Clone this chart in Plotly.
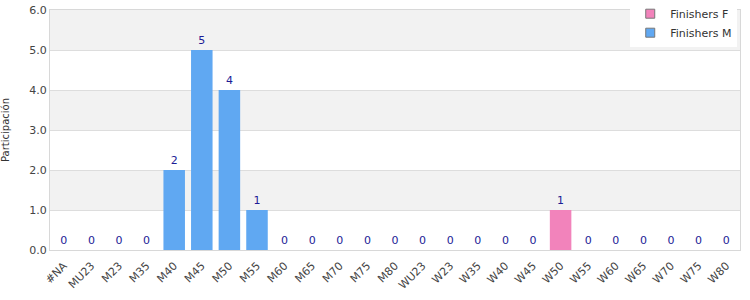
import plotly.graph_objects as go

categories = ["#NA", "MU23", "M23", "M35", "M40", "M45", "M50", "M55", "M60", "M65", "M70", "M75", "M80",
              "WU23", "W23", "W35", "W40", "W45", "W50", "W55", "W60", "W65", "W70", "W75", "W80"]
finishers_m = [0, 0, 0, 0, 2, 5, 4, 1, 0, 0, 0, 0, 0, None, None, None, None, None, None, None, None, None, None, None, None]
finishers_f = [None, None, None, None, None, None, None, None, None, None, None, None, None, 0, 0, 0, 0, 0, 1, 0, 0, 0, 0, 0, 0]
y_ticks = [0, 1, 2, 3, 4, 5, 6]

BLUE = "#60a8f2"
PINK = "#f283bb"
TXT = "#1c1c96"
FONT = "DejaVu Sans"

fig = go.Figure()
for name, vals, col in [("Finishers M", finishers_m, BLUE), ("Finishers F", finishers_f, PINK)]:
    fig.add_trace(go.Bar(
        x=categories, y=vals, name=name, marker=dict(color=col, line=dict(width=0)),
        width=0.78, text=[("" if v is None else str(v)) for v in vals],
        textposition="outside", cliponaxis=False,
        textfont=dict(color=TXT, size=11, family=FONT), showlegend=False))

for name, col in [("Finishers F", PINK), ("Finishers M", BLUE)]:
    fig.add_trace(go.Scatter(x=[None], y=[None], mode="markers", name=name,
                             marker=dict(symbol="square", size=9, color=col,
                                         line=dict(color="#777777", width=1))))

shapes = []
for lo in [1, 3, 5]:
    shapes.append(dict(type="rect", xref="paper", yref="y", x0=0, x1=1, y0=lo, y1=lo + 1,
                       fillcolor="#f2f2f2", line=dict(width=0), layer="below"))

fig.update_layout(
    width=750, height=300,
    margin=dict(l=50, r=10, t=10, b=50, autoexpand=False),
    paper_bgcolor="white", plot_bgcolor="white",
    barmode="overlay",
    font=dict(family=FONT, size=11, color="#444444"),
    shapes=shapes,
    showlegend=True,
    legend=dict(x=0.996, y=1.045, xanchor="right", yanchor="top", bgcolor="white",
                font=dict(size=11, color="#333333"), itemsizing="trace",
                tracegroupgap=0, traceorder="normal", itemwidth=30),
    xaxis=dict(type="category", tickangle=-45, tickfont=dict(size=11, color="#444444"),
               showline=True, linecolor="#d8d8d8", mirror=True, ticks="outside", ticklen=4,
               tickcolor="rgba(0,0,0,0)", showgrid=False,
               range=[-0.5, len(categories) - 0.5], automargin=False),
    yaxis=dict(range=[0, 6], tickvals=y_ticks, tickformat=".1f", showgrid=True,
               gridcolor="#dddddd", showline=True, linecolor="#d8d8d8", mirror=True,
               zeroline=False, tickfont=dict(size=11, color="#444444"), automargin=False,
               title=dict(text="Participación", font=dict(size=10, color="#333333"), standoff=17)),
)

fig.write_html("out.html")
